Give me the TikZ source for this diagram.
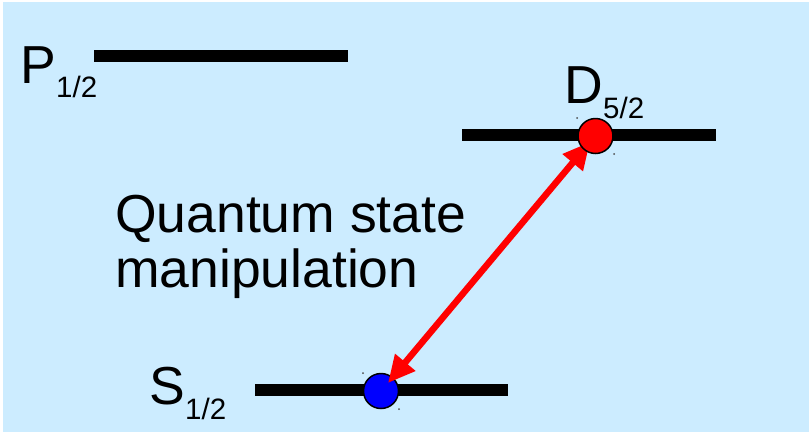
\documentclass[tikz,border=0pt]{standalone}
\usepackage{fontspec}
\setmainfont{Liberation Sans}
\usetikzlibrary{arrows.meta}
\definecolor{bgblue}{HTML}{CCECFF}
\tikzset{
  level/.style={line width=11.5pt, black},
  big/.style={inner sep=0pt, anchor=base west, font=\fontsize{53.5}{56}\selectfont},
  small/.style={inner sep=0pt, anchor=base west, font=\fontsize{29.5}{31}\selectfont},
  ion/.style={circle, draw=black, line width=1.5pt, minimum size=35pt, inner sep=0pt},
  handle/.style={circle, fill=black!70, minimum size=2pt, inner sep=0pt},
  transition/.style={red, line width=6.5pt, {Triangle[length=27pt,width=25pt]}-{Triangle[length=27pt,width=25pt]}}
}
\begin{document}
\begin{tikzpicture}[x=1pt,y=-1pt]
\fill[white] (0,0) rectangle (809,432);
\useasboundingbox (0,0) rectangle (809,432);
\fill[bgblue] (3,2) rectangle (809,432);
% levels
\coordinate (p1) at (94,56); \coordinate (p2) at (348,56);
\coordinate (d1) at (462,135); \coordinate (d2) at (716,135);
\coordinate (s1) at (255,390); \coordinate (s2) at (508,390);
\draw[level] (p1) -- (p2);
\draw[level] (d1) -- (d2);
\draw[level] (s1) -- (s2);
% labels
\node[big] (P) at (20,83) {P};
\node[small] (Psub) at (56,97) {1/2};
\node[big] (D) at (564,103) {D};
\node[small] (Dsub) at (603,118) {5/2};
\node[big] (S) at (149,404) {S};
\node[small] (Ssub) at (185,419) {1/2};
\node[big] (q1) at (115,232) {Quantum state};
\node[big] (q2) at (115,287) {manipulation};
% ions
\node[ion, fill=blue] (blueion) at (381,391) {};
\coordinate (tipD) at (590,142);
\coordinate (tipS) at (388,383);
\draw[transition] (tipD) -- (tipS);
\node[ion, fill=red] (redion) at (595.5,136) {};
% handles
\node[handle] (h1) at (577,118) {};
\node[handle] (h2) at (614,154) {};
\node[handle] (h3) at (363,373) {};
\node[handle] (h4) at (399,409) {};
\end{tikzpicture}
\end{document}
